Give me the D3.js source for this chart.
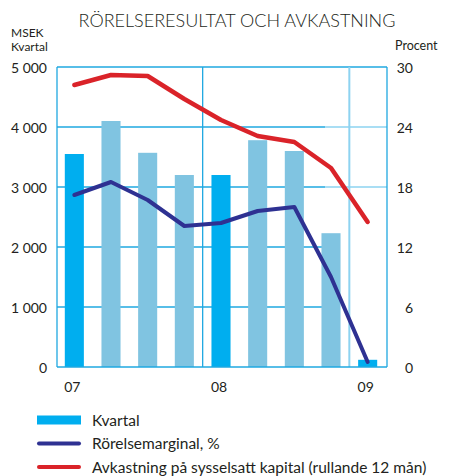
<!DOCTYPE html>
<html><head><meta charset="utf-8">
<script src="https://cdn.jsdelivr.net/npm/d3@7/dist/d3.min.js"></script>
<style>
body{margin:0;background:#fff;}
text{font-family:Lato,"Open Sans",sans-serif;fill:#231f20;}
</style></head>
<body>
<svg id="chart" width="449" height="476"></svg>
<script>
const quarters = ["Q1-07","Q2-07","Q3-07","Q4-07","Q1-08","Q2-08","Q3-08","Q4-08","Q1-09"];
const kvartal = [3550, 4100, 3570, 3200, 3200, 3780, 3600, 2230, 120];
const highlight = [true, false, false, false, true, false, false, false, true];
const marginal = [17.2, 18.5, 16.7, 14.1, 14.4, 15.6, 16.0, 9.0, 0.5];
const avkastning = [28.2, 29.2, 29.1, 26.8, 24.7, 23.1, 22.5, 19.9, 14.5];
const leftTicks = [0, 1000, 2000, 3000, 4000, 5000];
const rightTicks = [0, 6, 12, 18, 24, 30];
const yearLabels = [{q:"Q1-07", t:"07"}, {q:"Q1-08", t:"08"}, {q:"Q1-09", t:"09"}];
const legendItems = ["Kvartal", "Rörelsemarginal, %", "Avkastning på sysselsatt kapital (rullande 12 mån)"];

const svg = d3.select("#chart");
const L = 57, R = 387, T = 67, B = 367;
const grid = "#1fa8e1", gridLight = "#8dd3f1";
const cBright = "#00aeef", cLight = "#80c4e1", cBlue = "#2e3192", cRed = "#da2329";

const x = d3.scaleBand().domain(quarters).range([L - 1, R - 1]).paddingInner(0.48).paddingOuter(0.24);
const yL = d3.scaleLinear().domain([0, 5000]).range([B, T]);
const yR = d3.scaleLinear().domain([0, 30]).range([B, T]);
const fmt = d => d3.format(",")(d).replace(/,/g, " ");

// title
svg.append("text").attr("x", 237).attr("y", 27).attr("text-anchor", "middle")
  .attr("font-size", 18).style("font-weight", 300).text("RÖRELSERESULTAT OCH AVKASTNING");
svg.append("text").attr("x", 11).attr("y", 36.5).attr("font-size", 12).text("MSEK");
svg.append("text").attr("x", 11).attr("y", 51).attr("font-size", 12).text("Kvartal");
svg.append("text").attr("x", 395).attr("y", 49.5).attr("font-size", 12.5).text("Procent");

// gridlines
const g = svg.append("g");
leftTicks.forEach(v => {
  if (v === 0) return;
  const y = yL(v);
  if (v === 5000) {
    g.append("line").attr("x1", L).attr("x2", R).attr("y1", y).attr("y2", y).attr("stroke", grid).attr("stroke-width", 1.3);
  } else {
    g.append("line").attr("x1", L).attr("x2", 325).attr("y1", y).attr("y2", y).attr("stroke", grid).attr("stroke-width", 1.3);
    if (v >= 3000) g.append("line").attr("x1", 325).attr("x2", R).attr("y1", y).attr("y2", y).attr("stroke", gridLight).attr("stroke-width", 1.3);
  }
});
// vertical dividers
const divX = q => x(q) - x.step() * x.paddingInner() / 2;
g.append("line").attr("x1", divX("Q1-08")).attr("x2", divX("Q1-08")).attr("y1", T).attr("y2", B).attr("stroke", grid).attr("stroke-width", 1.3);
g.append("line").attr("x1", divX("Q1-09")).attr("x2", divX("Q1-09")).attr("y1", T).attr("y2", B).attr("stroke", gridLight).attr("stroke-width", 2);
g.append("line").attr("x1", L).attr("x2", L).attr("y1", T).attr("y2", B).attr("stroke", grid).attr("stroke-width", 1.3);
g.append("line").attr("x1", R).attr("x2", R).attr("y1", T).attr("y2", B).attr("stroke", grid).attr("stroke-width", 1.3);

// bars
svg.append("g").selectAll("rect").data(quarters).join("rect")
  .attr("x", d => x(d)).attr("width", x.bandwidth())
  .attr("y", (d, i) => yL(kvartal[i])).attr("height", (d, i) => B - yL(kvartal[i]))
  .attr("fill", (d, i) => highlight[i] ? cBright : cLight);

// baseline
svg.append("line").attr("x1", L).attr("x2", R).attr("y1", B).attr("y2", B).attr("stroke", grid).attr("stroke-width", 1.5);

// lines
const cx = q => x(q) + x.bandwidth() / 2;
const line = d3.line().x((d, i) => cx(quarters[i])).y(d => yR(d));
svg.append("path").datum(avkastning).attr("d", line).attr("fill", "none").attr("stroke", cRed)
  .attr("stroke-width", 4.5).attr("stroke-linejoin", "round").attr("stroke-linecap", "round");
svg.append("path").datum(marginal).attr("d", line).attr("fill", "none").attr("stroke", cBlue)
  .attr("stroke-width", 4).attr("stroke-linejoin", "round").attr("stroke-linecap", "round");

// axes
const axL = svg.append("g").attr("transform", `translate(47,0)`)
  .call(d3.axisLeft(yL).tickValues(leftTicks).tickFormat(fmt).tickSize(0).tickPadding(0));
axL.select(".domain").remove();
axL.selectAll("text").attr("font-size", 14).attr("dy", "0.36em").style("font-family", "Lato");
const axR = svg.append("g").attr("transform", `translate(413,0)`)
  .call(d3.axisLeft(yR).tickValues(rightTicks).tickSize(0).tickPadding(0));
axR.select(".domain").remove();
axR.selectAll("text").attr("font-size", 14).attr("dy", "0.36em").style("font-family", "Lato");

yearLabels.forEach(d => {
  svg.append("text").attr("x", cx(d.q) - 2).attr("y", 392).attr("text-anchor", "middle")
    .attr("font-size", 14).text(d.t);
});

// legend
const lg = svg.append("g");
legendItems.forEach((t, i) => {
  const cy = 420 + i * 23.5;
  if (i === 0) lg.append("rect").attr("x", 37).attr("y", cy - 4.5).attr("width", 44).attr("height", 9).attr("fill", cBright);
  else lg.append("line").attr("x1", 39).attr("x2", 79).attr("y1", cy).attr("y2", cy)
    .attr("stroke", i === 1 ? cBlue : cRed).attr("stroke-width", 4).attr("stroke-linecap", "round");
  const tx = lg.append("text").attr("x", 92).attr("y", cy + 5.5).attr("font-size", 15.5).text(t);
  const w = tx.node().getComputedTextLength();
  if (92 + w > 447) tx.attr("textLength", 447 - 92).attr("lengthAdjust", "spacingAndGlyphs");
});
</script>
</body></html>
